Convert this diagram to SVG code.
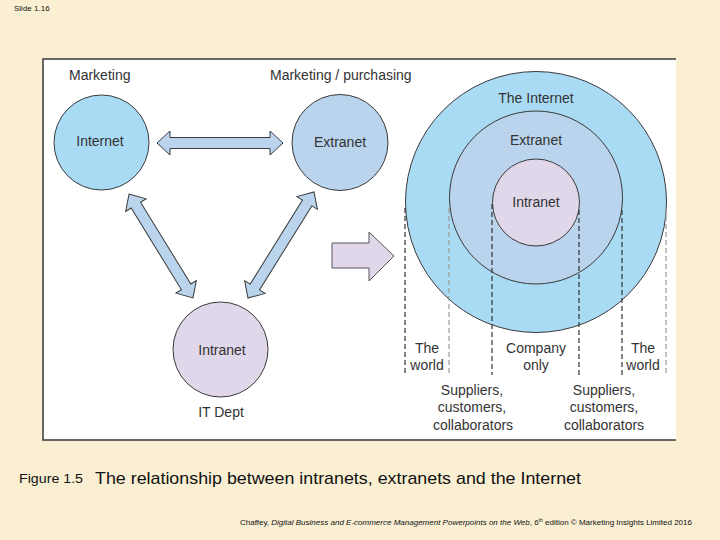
<svg xmlns="http://www.w3.org/2000/svg" width="720" height="540" viewBox="0 0 720 540">
<style>
text{font-family:"Liberation Sans",Arial,sans-serif;fill:#333;}
.lbl{font-size:14px;}
.ctr{text-anchor:middle;}
.node{stroke:#3a3a3a;stroke-width:1;}
.arr{fill:#b9d4ec;stroke:#3a3a3a;stroke-width:1;stroke-linejoin:miter;}
.dk{stroke:#333;stroke-width:1.2;stroke-dasharray:5 3;fill:none;}
.lt{stroke:#9a9a9a;stroke-width:1.2;stroke-dasharray:5 3;fill:none;}
</style>
<rect width="720" height="540" fill="#faefd3"/>
<text x="14" y="11" style="font-size:8px;fill:#111">Slide 1.16</text>
<rect x="43" y="59" width="633" height="381" fill="#ffffff"/>
<path d="M676,59 H43 V440 H676" fill="none" stroke="#3a3a3a" stroke-width="1.5"/>

<g id="connectors">
<path class="arr" transform="translate(220,143)" d="M-63,0 L-50,-12 L-50,-5.5 L50,-5.5 L50,-12 L63,0 L50,12 L50,5.5 L-50,5.5 L-50,12 Z"/>
<path class="arr" transform="translate(161,246) rotate(58.4)" d="M-61,0 L-48,-12 L-48,-5.5 L48,-5.5 L48,-12 L61,0 L48,12 L48,5.5 L-48,5.5 L-48,12 Z"/>
<path class="arr" transform="translate(281,245) rotate(121.9)" d="M-62.5,0 L-49.5,-12 L-49.5,-5.5 L49.5,-5.5 L49.5,-12 L62.5,0 L49.5,12 L49.5,5.5 L-49.5,5.5 L-49.5,12 Z"/>
<path d="M332,243 H369 V232 L394,256 L369,281 V268 H332 Z" fill="#e0d8ea" stroke="#555" stroke-width="1"/>
</g>

<g id="internet">
<text class="lbl" x="69" y="80">Marketing</text>
<circle class="node" cx="101.5" cy="142.5" r="47.5" fill="#a9dbf5"/>
<text class="lbl ctr" x="100" y="146">Internet</text>
</g>
<g id="extranet">
<text class="lbl" x="270" y="80">Marketing / purchasing</text>
<circle class="node" cx="340" cy="142.5" r="48" fill="#b9d4ec"/>
<text class="lbl ctr" x="340" y="147">Extranet</text>
</g>
<g id="intranet">
<circle class="node" cx="220.5" cy="349.5" r="47.5" fill="#e0d8ea"/>
<text class="lbl ctr" x="222" y="355">Intranet</text>
<text class="lbl ctr" x="221" y="417">IT Dept</text>
</g>

<g id="concentric">
<circle class="node" cx="536" cy="202" r="130.5" fill="#a9dbf5"/>
<circle class="node" cx="536" cy="197.5" r="86.5" fill="#b9d4ec"/>
<circle class="node" cx="536" cy="202.5" r="43.5" fill="#e0d8ea"/>
<text class="lbl ctr" x="536" y="103">The Internet</text>
<text class="lbl ctr" x="536" y="145">Extranet</text>
<text class="lbl ctr" x="536" y="207">Intranet</text>
</g>

<g id="dividers">
<line class="dk" x1="405" y1="208" x2="405" y2="375"/>
<line class="lt" x1="449" y1="208" x2="449" y2="375"/>
<line class="dk" x1="492" y1="204" x2="492" y2="375"/>
<line class="dk" x1="579" y1="210" x2="579" y2="375"/>
<line class="dk" x1="622" y1="210" x2="622" y2="375"/>
<line class="lt" x1="666" y1="208" x2="666" y2="375"/>
</g>

<g id="labels">
<text class="lbl ctr" x="427" y="353">The</text>
<text class="lbl ctr" x="427" y="370">world</text>
<text class="lbl ctr" x="536" y="353">Company</text>
<text class="lbl ctr" x="536" y="370">only</text>
<text class="lbl ctr" x="643" y="353">The</text>
<text class="lbl ctr" x="643" y="370">world</text>
<text class="lbl ctr" x="472" y="395">Suppliers,</text>
<text class="lbl ctr" x="472" y="412">customers,</text>
<text class="lbl ctr" x="473" y="430">collaborators</text>
<text class="lbl ctr" x="604" y="395">Suppliers,</text>
<text class="lbl ctr" x="604" y="412">customers,</text>
<text class="lbl ctr" x="604" y="430">collaborators</text>
</g>

<text x="19" y="483" style="font-size:12px;fill:#111" textLength="64" lengthAdjust="spacingAndGlyphs">Figure 1.5</text>
<text x="95" y="484" style="font-size:17px;fill:#111" textLength="486" lengthAdjust="spacingAndGlyphs">The relationship between intranets, extranets and the Internet</text>
<text x="240" y="525" style="font-size:8px;fill:#111" textLength="452" lengthAdjust="spacingAndGlyphs">Chaffey, <tspan font-style="italic">Digital Business and E-commerce Management Powerpoints on the Web</tspan>, 6<tspan font-size="5" dy="-3">th</tspan><tspan dy="3"> edition © Marketing Insights Limited 2016</tspan></text>
</svg>
